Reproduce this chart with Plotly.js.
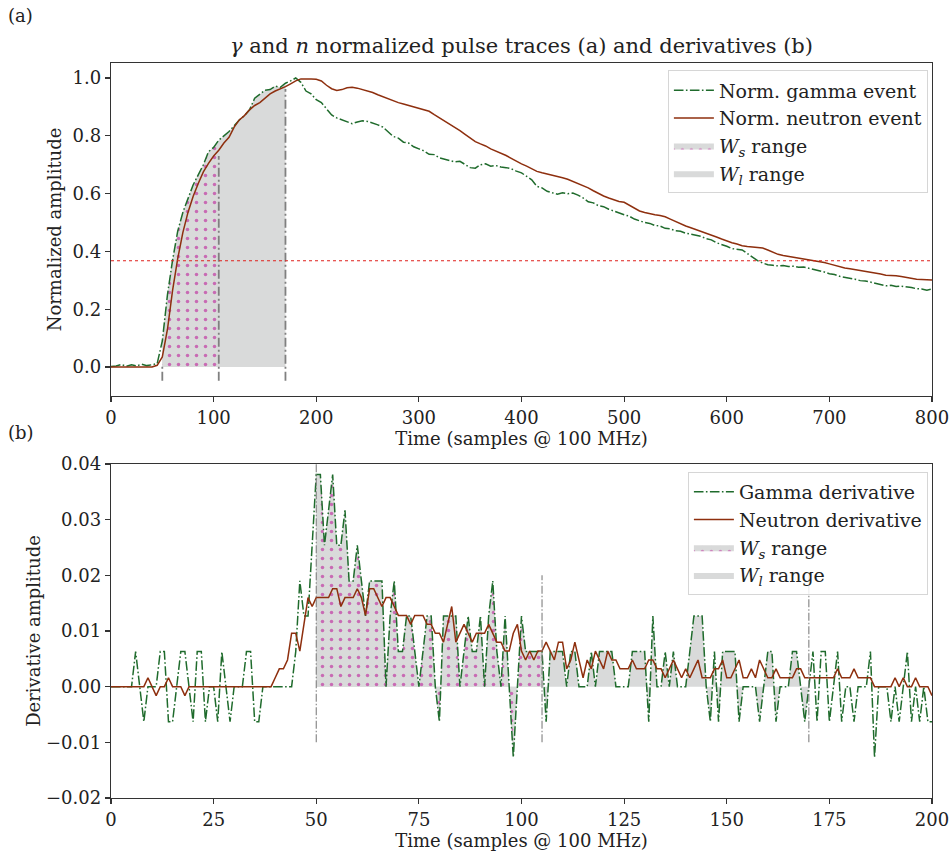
<!DOCTYPE html>
<html>
<head>
<meta charset="utf-8">
<script src="https://cdn.plot.ly/plotly-3.0.1.min.js"></script>
<style>html,body{margin:0;padding:0;background:#fff;}#chart{width:952px;height:854px;}</style>
</head>
<body>
<div id="chart"></div>
<script>
// ---------- DATA ----------
// (a) normalized pulse traces, one value every 5 samples, samples 0..800
const topStep = 5;
const gammaNorm = [
  0.002,0.004,0.009,0.003,0.008,0.004,0.010,0.005,0.008,0.012,
  0.09,0.25,0.37,0.47,0.535,0.585,0.63,0.665,0.70,0.745,
  0.76,0.785,0.80,0.815,0.835,0.855,0.87,0.89,0.93,0.945,
  0.958,0.96,0.972,0.968,0.982,0.99,1.0,0.985,0.955,0.945,
  0.925,0.915,0.895,0.872,0.862,0.855,0.85,0.842,0.848,0.852,
  0.85,0.845,0.838,0.83,0.815,0.798,0.792,0.778,0.775,0.762,
  0.755,0.748,0.736,0.735,0.724,0.72,0.716,0.71,0.712,0.70,
  0.69,0.688,0.70,0.703,0.695,0.697,0.692,0.69,0.686,0.678,
  0.672,0.66,0.648,0.625,0.62,0.608,0.604,0.598,0.603,0.60,
  0.602,0.595,0.585,0.572,0.568,0.558,0.555,0.546,0.54,0.533,
  0.527,0.522,0.512,0.506,0.50,0.497,0.49,0.488,0.48,0.478,
  0.472,0.47,0.463,0.46,0.455,0.452,0.444,0.44,0.43,0.425,
  0.418,0.41,0.408,0.405,0.393,0.38,0.368,0.36,0.354,0.352,
  0.35,0.351,0.348,0.349,0.345,0.346,0.342,0.338,0.333,0.329,
  0.323,0.32,0.314,0.311,0.306,0.304,0.299,0.298,0.294,0.29,
  0.284,0.281,0.283,0.279,0.28,0.278,0.275,0.271,0.27,0.266,
  0.27
];
const neutronNorm = [
  0,0,0,0,0,0,0,0,0,0.006,
  0.035,0.13,0.265,0.375,0.465,0.535,0.59,0.635,0.675,0.705,
  0.73,0.75,0.775,0.795,0.83,0.855,0.87,0.89,0.905,0.915,
  0.93,0.945,0.955,0.962,0.97,0.98,0.99,0.997,0.998,0.997,
  0.996,0.99,0.975,0.963,0.957,0.96,0.966,0.968,0.965,0.96,
  0.955,0.95,0.942,0.935,0.928,0.92,0.915,0.91,0.905,0.90,
  0.897,0.892,0.885,0.873,0.862,0.852,0.84,0.828,0.818,0.805,
  0.793,0.78,0.772,0.765,0.755,0.748,0.74,0.732,0.722,0.712,
  0.703,0.695,0.685,0.677,0.672,0.668,0.665,0.66,0.655,0.65,
  0.643,0.635,0.628,0.62,0.61,0.60,0.592,0.585,0.578,0.573,
  0.57,0.56,0.55,0.54,0.535,0.53,0.527,0.524,0.52,0.512,
  0.504,0.495,0.488,0.482,0.476,0.47,0.463,0.457,0.45,0.443,
  0.436,0.43,0.426,0.42,0.417,0.415,0.413,0.412,0.405,0.398,
  0.39,0.386,0.383,0.38,0.377,0.374,0.371,0.369,0.367,0.362,
  0.357,0.352,0.347,0.343,0.34,0.337,0.334,0.332,0.33,0.326,
  0.322,0.318,0.318,0.316,0.313,0.31,0.306,0.304,0.303,0.302,
  0.301
];
// (b) derivatives, one value per sample, samples 0..200
const gammaDeriv = [
  0,0,0,0,0,0,0.0063,0,-0.0063,0,
  0,0,0.0063,0.0063,-0.0063,-0.0063,0,0.0063,0.0063,0,
  -0.0063,0.0063,0.0063,-0.0063,0,0,-0.0063,0.0063,0,-0.0063,
  0,0,0,0.0063,0.0063,-0.0063,-0.0063,0,0,0,
  0,0,0,0,0,0.0063,0.019,0.0127,0.0127,0.0254,
  0.0381,0.0381,0.0254,0.0317,0.0381,0.0254,0.0254,0.0317,0.019,0.019,
  0.0254,0.019,0.0127,0.019,0.019,0.019,0.019,0,0.0127,0.019,
  0.0063,0.0063,0.0127,0.0127,0.0063,0,0.0063,0.0127,0.0127,0,
  -0.0063,0.0127,0.0127,0.0127,0.0127,0,0.0063,0.0127,0.0063,0.0063,
  0.0127,0,0.0127,0.019,0.0063,0,0.0127,0,-0.0127,0,
  0.0127,0.0063,0.0063,0.0063,0.0063,0.0063,-0.0063,0.0063,0.0063,0.0063,
  0.0063,0,0.0063,0.0063,0,0,0,0.0063,0,0.0063,
  0.0063,0.0063,0.0063,0,0,0,0,0.0063,0.0063,0.0063,
  0.0063,-0.0063,0.0127,0,0,0.0063,0,0.0063,0,0,
  0,0.0063,0.0127,0.0127,0.0127,0,-0.0063,0.0063,-0.0063,0.0063,
  0.0063,0.0063,0.0063,-0.0063,0,0,0,0,-0.0063,0,
  0.0063,0.0063,-0.0063,0,0,0,0.0063,0.0063,0,-0.0063,
  0,0.0063,-0.0063,0.0063,0.0063,-0.0063,0,0.0063,-0.0063,0,
  0,-0.0063,0,0,0,0.0063,-0.0127,0,0,0,
  -0.0063,0,-0.0063,0,0.0063,-0.0063,0,-0.0063,0,-0.0063,
  -0.0063
];
const neutronDeriv = [
  0,0,0,0,0,0,0,0,0,0.0016,
  0,-0.0016,0,0,0.0016,0,0,0,-0.0016,0,
  0,0,0,0,0,0,0,0,0,0,
  0,0,0,0,0,0,0,0,0,0,
  0.0016,0.0032,0.0032,0.0048,0.0096,0.0096,0.0064,0.0112,0.016,0.0144,
  0.016,0.016,0.016,0.016,0.0176,0.0176,0.0144,0.016,0.016,0.016,
  0.0176,0.016,0.0128,0.0176,0.0176,0.016,0.0144,0.016,0.016,0.0144,
  0.0128,0.0128,0.0128,0.0112,0.0128,0.0128,0.0128,0.0112,0.0112,0.0096,
  0.0096,0.008,0.0112,0.0144,0.008,0.0096,0.0112,0.0096,0.008,0.0096,
  0.0096,0.0096,0.0112,0.0096,0.008,0.008,0.0064,0.0064,0.0096,0.0112,
  0.0064,0.0048,0.0064,0.0048,0.0064,0.0064,0.008,0.0064,0.0048,0.008,
  0.008,0.0032,0.0048,0.008,0.0048,0.0016,0.0048,0.0032,0.0064,0.0048,
  0.0032,0.0064,0.0048,0.0048,0.0032,0.0032,0.0032,0.0048,0.0032,0.0032,
  0.0032,0.0048,0.0048,0.0032,0.0032,0.0016,0.0032,0.0048,0.0032,0.0016,
  0.0032,0.0016,0.0032,0.0048,0.0016,0.0016,0.0016,0.0032,0.0032,0.0048,
  0.0016,0.0016,0.0032,0.0048,0.0016,0.0016,0.0032,0.0016,0.0048,0.0032,
  0.0016,0.0016,0.0032,0.0016,0.0016,0.0016,0.0016,0.0032,0.0032,0.0016,
  0.0016,0.0016,0.0016,0.0016,0.0016,0.0016,0.0016,0.0032,0.0016,0.0016,
  0.0016,0.0032,0.0016,0.0016,0.0016,0.0016,0,0,0,0,
  0,0.0016,0,0.0016,0,0,0.0016,0,0,0,
  -0.0016
];
// integration windows (samples)
const windowStart = 50;
const shortEnd = 105;
const longEnd = 170;
const decayLevel = 0.368;      // 1/e reference level in (a)
const derivMarkerTop = [0.04, 0.02, 0.02];

// tick labels
const topXTicks = [0,100,200,300,400,500,600,700,800];
const topYTicks = [0.0,0.2,0.4,0.6,0.8,1.0];
const botXTicks = [0,25,50,75,100,125,150,175,200];
const botYTicks = [-0.02,-0.01,0.00,0.01,0.02,0.03,0.04];

// ---------- BUILD ----------
const topTime = gammaNorm.map((_, i) => i * topStep);
const derivTime = gammaDeriv.map((_, i) => i);
function windowed(xs, ys, a, b) {
  const x = [], y = [];
  xs.forEach((v, i) => { if (v >= a && v <= b) { x.push(v); y.push(ys[i]); } });
  return {x, y};
}

const FONT = 'DejaVu Serif, Liberation Serif, serif';
const FS = 18;
const GREEN = '#1f6b2c';
const BROWN = '#8e2f0e';
const GRAYFILL = '#d9dada';
const PINK = '#c86ab4';
const gammaDash = '9.6px,2.4px,1.6px,2.4px';
const DOTS = {shape:'.', fgcolor: PINK, bgcolor: GRAYFILL, size: 9, solidity: 0.12};

const wlTop = windowed(topTime, gammaNorm, windowStart, longEnd);
const wsTop = windowed(topTime, gammaNorm, windowStart, shortEnd);
const wlBot = windowed(derivTime, gammaDeriv, windowStart, longEnd);
const wsBot = windowed(derivTime, gammaDeriv, windowStart, shortEnd);

const traces = [
  {x: wlTop.x, y: wlTop.y, xaxis:'x', yaxis:'y', mode:'lines', fill:'tozeroy',
   fillcolor: GRAYFILL, line:{width:0, color: GRAYFILL}, name:'<i>W<sub>l</sub></i> range',
   legend:'legend', legendrank: 4, hoverinfo:'skip'},
  {x: wsTop.x, y: wsTop.y, xaxis:'x', yaxis:'y', mode:'lines', fill:'tozeroy',
   fillcolor: GRAYFILL, fillpattern: DOTS,
   line:{width:0, color: PINK}, name:'<i>W<sub>s</sub></i> range', legend:'legend', legendrank: 3, hoverinfo:'skip'},
  {x: topTime, y: gammaNorm, xaxis:'x', yaxis:'y', mode:'lines',
   line:{color: GREEN, width:1.5, dash: gammaDash}, name:'Norm. gamma event', legend:'legend', legendrank: 1},
  {x: topTime, y: neutronNorm, xaxis:'x', yaxis:'y', mode:'lines',
   line:{color: BROWN, width:1.5}, name:'Norm. neutron event', legend:'legend', legendrank: 2},

  {x: wlBot.x, y: wlBot.y, xaxis:'x2', yaxis:'y2', mode:'lines', fill:'tozeroy',
   fillcolor: GRAYFILL, line:{width:0, color: GRAYFILL}, name:'<i>W<sub>l</sub></i> range',
   legend:'legend2', legendrank: 4, hoverinfo:'skip'},
  {x: wsBot.x, y: wsBot.y, xaxis:'x2', yaxis:'y2', mode:'lines', fill:'tozeroy',
   fillcolor: GRAYFILL, fillpattern: DOTS,
   line:{width:0, color: PINK}, name:'<i>W<sub>s</sub></i> range', legend:'legend2', legendrank: 3, hoverinfo:'skip'},
  {x: derivTime, y: gammaDeriv, xaxis:'x2', yaxis:'y2', mode:'lines',
   line:{color: GREEN, width:1.5, dash: gammaDash}, name:'Gamma derivative', legend:'legend2', legendrank: 1},
  {x: derivTime, y: neutronDeriv, xaxis:'x2', yaxis:'y2', mode:'lines',
   line:{color: BROWN, width:1.5}, name:'Neutron derivative', legend:'legend2', legendrank: 2}
];

const edges = [windowStart, shortEnd, longEnd];
const shapes = [];
edges.forEach((e, k) => {
  const idx = Math.round(e / topStep) - 1;
  shapes.push({type:'line', xref:'x', yref:'y', x0:e, x1:e, y0:-0.047, y1: neutronNorm[idx],
    line:{color:'#808080', width:1.8, dash:'9px,3px,2px,3px'}, layer:'above'});
  shapes.push({type:'line', xref:'x2', yref:'y2', x0:e, x1:e, y0:-0.01, y1: derivMarkerTop[k],
    line:{color:'#808080', width:1.1, dash:'8px,2px,1.5px,2px'}, layer:'above'});
});
shapes.push({type:'line', xref:'x domain', yref:'y', x0:0, x1:1, y0:decayLevel, y1:decayLevel,
  line:{color:'#e0201c', width:1.1, dash:'dot'}, layer:'above'});

const axisCommon = {
  showgrid:false, zeroline:false, showline:true, mirror:true,
  linecolor:'#333', linewidth:1.2, ticks:'outside', ticklen:5, tickwidth:1.2, tickcolor:'#333',
  tickfont:{family: FONT, size:FS, color:'#222'}
};

const legendCommon = {
  xref:'paper', yref:'paper', xanchor:'right', yanchor:'top',
  bgcolor:'rgba(255,255,255,0.85)', bordercolor:'#d6d6d6', borderwidth:1,
  font:{family: FONT, size:19, color:'#222'}, tracegroupgap:0, itemwidth:40
};

const layout = {
  width:952, height:854,
  margin:{l:111, r:20, t:63, b:56},
  paper_bgcolor:'#fff', plot_bgcolor:'#fff',
  font:{family: FONT, color:'#222'},
  title:{text:'<i>γ</i> and <i>n</i> normalized pulse traces (a) and derivatives (b)',
    x:0.5, xref:'paper', y:1-46/854, yref:'container', yanchor:'middle',
    font:{family: FONT, size:21, color:'#222'}},
  xaxis: Object.assign({}, axisCommon, {domain:[0,1], anchor:'y', range:[0,800], tickvals: topXTicks,
    title:{text:'Time (samples @ 100 MHz)', font:{family: FONT, size:FS, color:'#222'}, standoff:2}}),
  yaxis: Object.assign({}, axisCommon, {domain:[0.547,1], anchor:'x', range:[-0.1,1.052], tickvals: topYTicks,
    tickformat:'.1f', title:{text:'Normalized amplitude', font:{family: FONT, size:FS, color:'#222'}, standoff:6}}),
  xaxis2: Object.assign({}, axisCommon, {domain:[0,1], anchor:'y2', range:[0,200], tickvals: botXTicks,
    title:{text:'Time (samples @ 100 MHz)', font:{family: FONT, size:FS, color:'#222'}, standoff:2}}),
  yaxis2: Object.assign({}, axisCommon, {domain:[0,0.4544], anchor:'x2', range:[-0.02,0.04], tickvals: botYTicks,
    tickformat:'.2f', title:{text:'Derivative amplitude', font:{family: FONT, size:FS, color:'#222'}, standoff:0}}),
  legend: Object.assign({}, legendCommon, {x:0.995, y:0.99}),
  legend2: Object.assign({}, legendCommon, {x:0.995, y:1-(472-63)/735}),
  shapes: shapes,
  annotations:[
    {text:'(a)', xref:'paper', yref:'paper', x:(6-111)/821, y:1+(63-15)/735, xanchor:'left', yanchor:'middle',
     showarrow:false, font:{family: FONT, size:FS, color:'#222'}},
    {text:'(b)', xref:'paper', yref:'paper', x:(6-111)/821, y:1-(432-63)/735, xanchor:'left', yanchor:'middle',
     showarrow:false, font:{family: FONT, size:FS, color:'#222'}}
  ],
  showlegend:true
};

Plotly.newPlot('chart', traces, layout, {staticPlot:true, displayModeBar:false});
</script>
</body>
</html>
